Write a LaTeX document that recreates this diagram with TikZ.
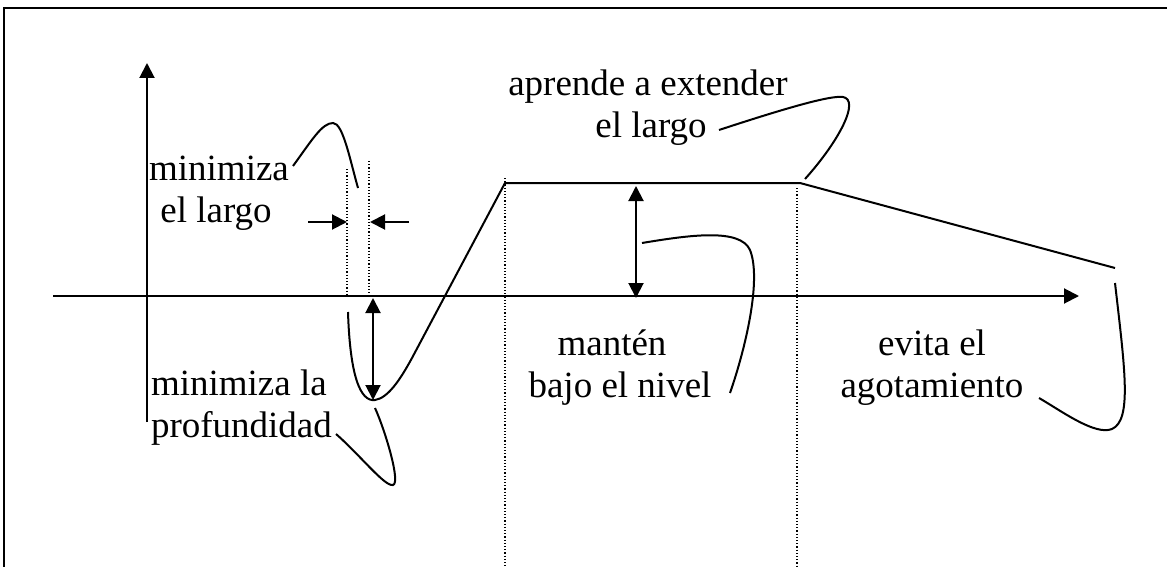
\documentclass[tikz,border=0pt]{standalone}
\usepackage{fontspec}
\setmainfont{Liberation Serif}
\usetikzlibrary{arrows.meta}
\begin{document}
\begin{tikzpicture}[x=1pt,y=-1pt,line width=2pt,
  tipend/.style={-{Triangle[length=15pt,width=15pt]}},
  dtips/.style={{Triangle[length=15pt,width=15pt]}-{Triangle[length=15pt,width=15pt]}},
  guide/.style={line width=1.2pt,dash pattern=on 1.2pt off 2pt},
  lbl/.style={font=\fontsize{37}{42}\selectfont,inner sep=0pt,anchor=base},
  callout/.style={line width=2pt}]
\useasboundingbox (0,0) rectangle (1167,567);
% frame
\draw (4,567) -- (4,8) -- (1167,8);
% axes
\coordinate (ybot) at (147,422);
\coordinate (ytip) at (147,63);
\coordinate (xst) at (53,296);
\coordinate (xtip) at (1079,296);
\draw[tipend] (ybot) -- (ytip);
\draw[tipend] (xst) -- (xtip);
% main curve
\coordinate (c0) at (348,312);
\coordinate (cmin) at (375,400);
\coordinate (cmid) at (412,358);
\coordinate (ptop1) at (505,183);
\coordinate (ptop2) at (800,183);
\coordinate (cend) at (1115,268);
\draw (c0) .. controls (350,375) and (360,402) .. (cmin)
      .. controls (388,398) and (400,380) .. (cmid) -- (ptop1) -- (ptop2) -- (cend);
% dotted guides
\coordinate (g1t) at (347,169); \coordinate (g1b) at (347,296);
\coordinate (g2t) at (369,161); \coordinate (g2b) at (369,296);
\coordinate (g3t) at (505,178); \coordinate (g3b) at (505,567);
\coordinate (g4t) at (797,188); \coordinate (g4b) at (797,567);
\draw[guide] (g1t) -- (g1b);
\draw[guide] (g2t) -- (g2b);
\draw[guide] (g3t) -- (g3b);
\draw[guide] (g4t) -- (g4b);
% width arrows
\coordinate (wa0) at (308,222); \coordinate (wa1) at (347,222);
\coordinate (wb0) at (409,222); \coordinate (wb1) at (370,222);
\draw[tipend] (wa0) -- (wa1);
\draw[tipend] (wb0) -- (wb1);
% depth arrow
\coordinate (da0) at (373,298); \coordinate (da1) at (373,400);
\draw[dtips] (da0) -- (da1);
% level arrow
\coordinate (la0) at (636,186); \coordinate (la1) at (636,298);
\draw[dtips] (la0) -- (la1);
% labels
\node[lbl] (t1a) at (219,180) {minimiza};
\node[lbl] (t1b) at (216,222) {el largo};
\node[lbl,anchor=base west] (t2a) at (150,395) {minimiza la};
\node[lbl,anchor=base west] (t2b) at (150,437) {profundidad};
\node[lbl] (t3a) at (648,96) {aprende a extender};
\node[lbl] (t3b) at (651,138) {el largo};
\node[lbl] (t4a) at (612,355) {mantén};
\node[lbl] (t4b) at (620,397) {bajo el nivel};
\node[lbl] (t5a) at (932,355) {evita el};
\node[lbl] (t5b) at (932,397) {agotamiento};
% callouts
\coordinate (k1s) at (293,166); \coordinate (k1e) at (358,188);
\draw[callout] (k1s) .. controls (312,140) and (322,123) .. (333,123)
   .. controls (343,123) and (350,160) .. (k1e);
\coordinate (k2s) at (336,434); \coordinate (k2e) at (375,408);
\draw[callout] (k2s) .. controls (360,455) and (385,487) .. (393,485)
   .. controls (401,483) and (385,430) .. (k2e);
\coordinate (k3s) at (719,130); \coordinate (k3e) at (805,179);
\draw[callout] (k3s) .. controls (780,110) and (830,95) .. (843,97)
   .. controls (860,100) and (840,140) .. (k3e);
\coordinate (k4s) at (642,243); \coordinate (k4e) at (730,393);
\draw[callout] (k4s) .. controls (690,235) and (740,228) .. (750,250)
   .. controls (762,280) and (745,350) .. (k4e);
\coordinate (k5s) at (1115,283); \coordinate (k5e) at (1039,398);
\draw[callout] (k5s) .. controls (1125,370) and (1132,420) .. (1112,429)
   .. controls (1095,436) and (1060,410) .. (k5e);
\end{tikzpicture}
\end{document}
